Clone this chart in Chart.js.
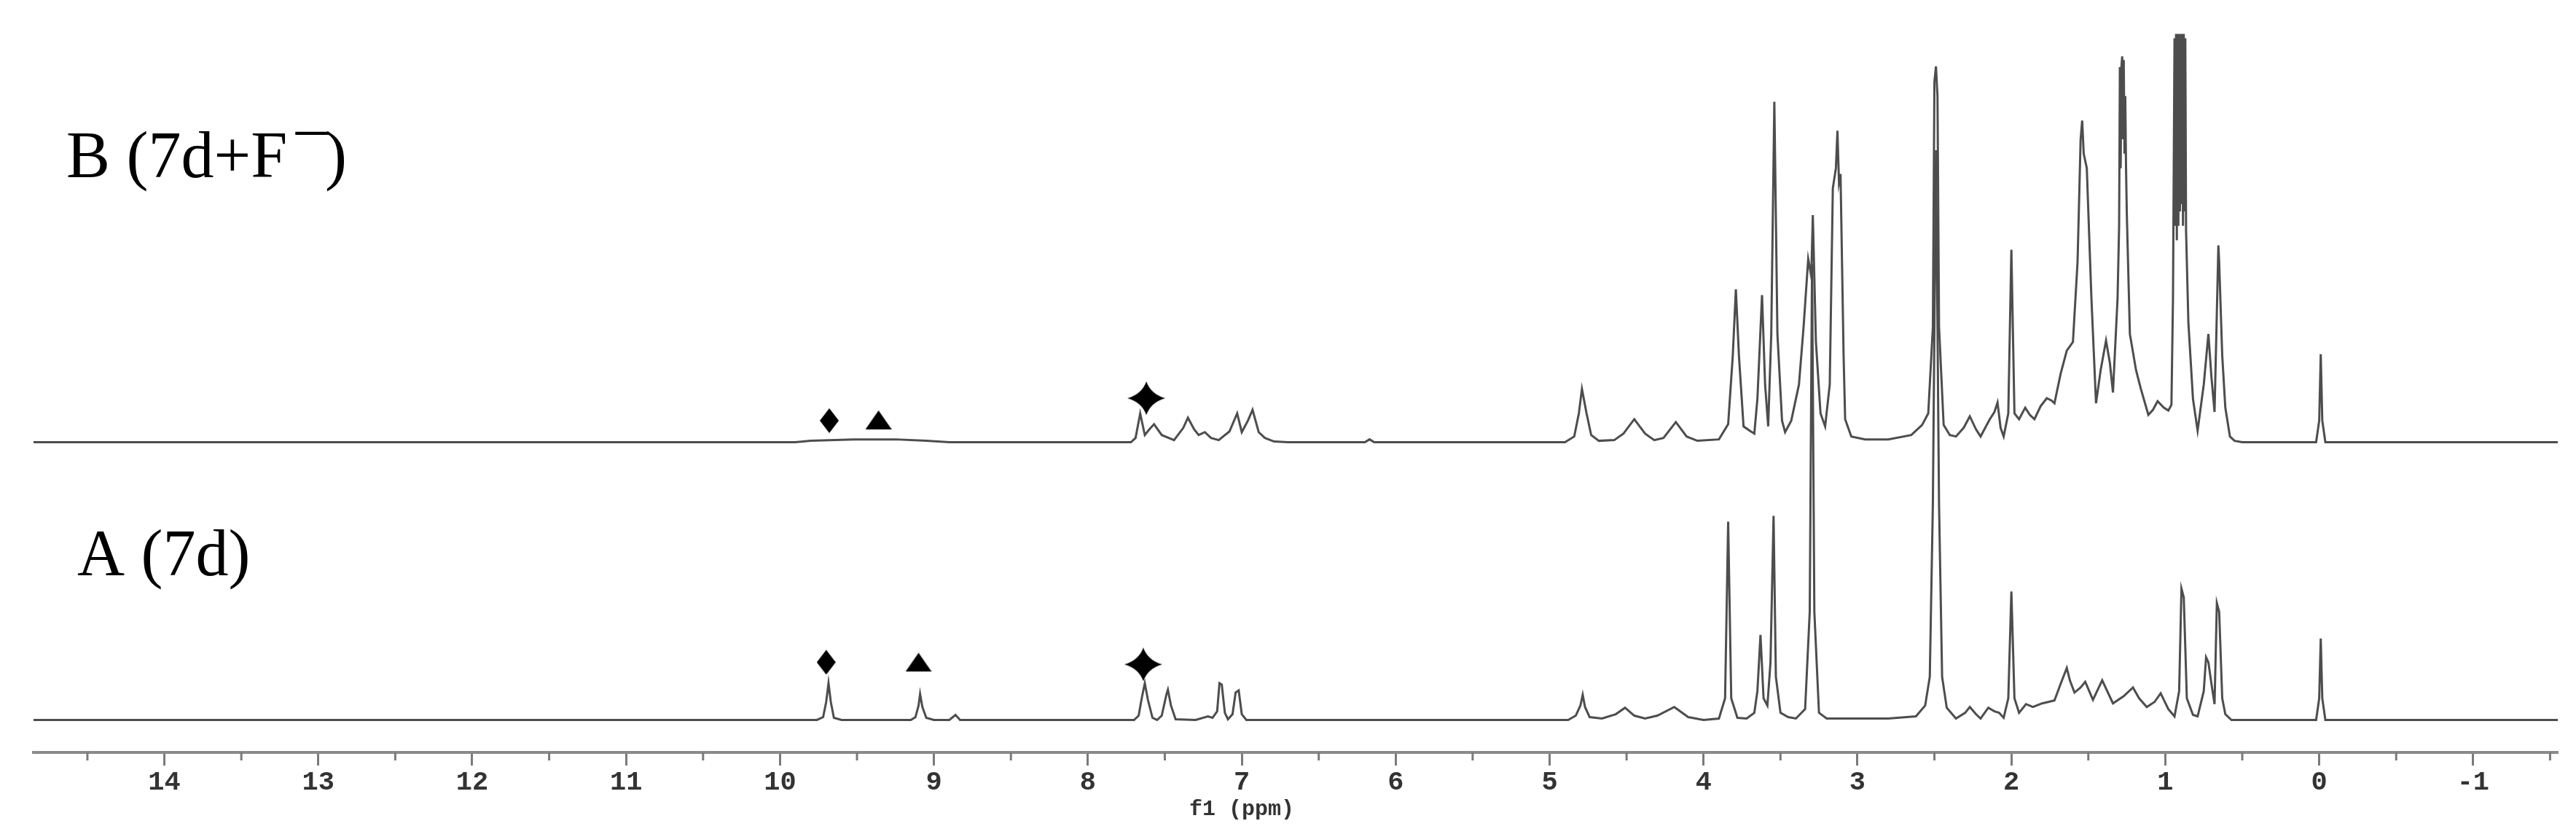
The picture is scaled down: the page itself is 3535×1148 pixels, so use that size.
<!DOCTYPE html>
<html>
<head>
<meta charset="utf-8">
<script src="https://cdn.jsdelivr.net/npm/chart.js@4.4.1/dist/chart.umd.min.js"></script>
<style>
  html, body { margin: 0; padding: 0; background: #fff; }
  #wrap { width: 3535px; height: 1148px; }
</style>
</head>
<body>
<div id="wrap"><canvas id="nmr" width="3535" height="1148"></canvas></div>
<script>
// ─── Spectrum B (7d + F-) : chemical shift (ppm) / intensity (a.u.) ───────
const ppmB = [14.85, 9.9, 9.8, 9.52, 9.25, 9.05, 8.9, 7.72, 7.69, 7.66, 7.63, 7.6, 7.57, 7.52, 7.44,
  7.38, 7.35, 7.31, 7.28, 7.24, 7.2, 7.15, 7.08, 7.03, 7.0, 6.96, 6.93, 6.89, 6.85, 6.79, 6.7,
  6.2, 6.17, 6.14, 4.9, 4.84, 4.81, 4.79, 4.76, 4.73, 4.68, 4.58, 4.52, 4.45, 4.38, 4.32, 4.26,
  4.18, 4.11, 4.04, 3.9, 3.84, 3.81, 3.79, 3.77, 3.74, 3.7, 3.67, 3.65, 3.62, 3.6, 3.58, 3.56,
  3.54, 3.52, 3.49, 3.47, 3.43, 3.38, 3.35, 3.32, 3.3, 3.29, 3.27, 3.24, 3.21, 3.18, 3.16, 3.14,
  3.13, 3.12, 3.11, 3.09, 3.08, 3.04, 2.95, 2.8, 2.65, 2.58, 2.54, 2.51, 2.5, 2.49, 2.48, 2.47, 2.44, 2.4,
  2.36, 2.31, 2.27, 2.23, 2.2, 2.17, 2.14, 2.11, 2.09, 2.07, 2.05, 2.02, 2.0, 1.98, 1.95, 1.91,
  1.88, 1.85, 1.81, 1.77, 1.74, 1.72, 1.68, 1.64, 1.6, 1.57, 1.55, 1.54, 1.53, 1.51, 1.48, 1.45, 1.42, 1.385,
  1.36, 1.34, 1.31, 1.3, 1.295, 1.29, 1.285, 1.28, 1.275, 1.27, 1.265, 1.26, 1.255, 1.25, 1.23, 1.19, 1.16,
  1.11, 1.08, 1.05, 1.01, 0.98, 0.96, 0.95, 0.94, 0.935, 0.93, 0.925, 0.92, 0.915, 0.91, 0.905,
  0.9, 0.895, 0.89, 0.885, 0.88, 0.875, 0.87, 0.865, 0.85, 0.82, 0.79, 0.75, 0.72, 0.7, 0.68,
  0.655, 0.65, 0.63, 0.61, 0.58, 0.55, 0.5,
  0.02, 0.0, -0.01, -0.02, -0.04, -1.55];
const intB = [0, 0, 2, 4, 4, 2, 0, 0, 6, 40, 10, 18, 25, 10, 3,
  20, 34, 18, 10, 14, 6, 3, 15, 40, 14, 30, 45, 14, 6, 1, 0,
  0, 4, 0, 0, 8, 40, 74, 40, 10, 2, 3, 12, 32, 12, 3, 6,
  28, 8, 2, 4, 25, 120, 212, 120, 22, 16, 12, 60, 204, 80, 22, 150,
  472, 150, 30, 14, 30, 80, 160, 254, 230, 315, 140, 40, 22, 80, 352, 380,
  432, 360, 372, 120, 32, 8, 4, 4, 10, 24, 40, 160, 500, 521, 480, 160, 24, 10,
  8, 20, 36, 18, 8, 20, 32, 42, 55, 20, 8, 40, 267, 40, 32, 48,
  38, 32, 50, 61, 58, 54, 95, 127, 139, 250, 420, 446, 400, 380, 200, 54, 100, 141,
  110, 69, 200, 300, 520, 380, 520, 535, 420, 530, 400, 480, 380, 317, 150, 100, 75,
  38, 45, 57, 48, 44, 52, 200, 560, 300, 566, 280, 566, 300, 566, 320,
  566, 330, 566, 300, 566, 320, 560, 293, 166, 60, 16, 80, 150, 90, 42,
  273, 250, 120, 48, 8, 2, 0,
  0, 30, 122, 30, 0, 0];

// ─── Spectrum A (7d) ──────────────────────────────────────────────────────
const ppmA = [14.85, 9.76, 9.72, 9.7, 9.685, 9.67, 9.65, 9.6, 9.15, 9.12, 9.1, 9.09, 9.075, 9.05, 9.0,
  8.9, 8.86, 8.83, 7.7, 7.67, 7.65, 7.63, 7.61, 7.58, 7.55, 7.52, 7.49, 7.48, 7.46, 7.43, 7.3,
  7.22, 7.19, 7.16, 7.145, 7.13, 7.11, 7.09, 7.06, 7.04, 7.02, 7.0, 6.97, 4.88, 4.83, 4.8, 4.785,
  4.77, 4.74, 4.66, 4.57, 4.51, 4.45, 4.38, 4.3, 4.19, 4.1, 4.0, 3.9, 3.86, 3.84, 3.82, 3.78,
  3.72, 3.67, 3.65, 3.63, 3.61, 3.585, 3.565, 3.545, 3.53, 3.5, 3.45, 3.4, 3.34, 3.31, 3.295,
  3.28, 3.25, 3.2, 2.8, 2.62, 2.56, 2.53, 2.51, 2.49, 2.47, 2.45, 2.42, 2.36, 2.3, 2.27, 2.23,
  2.2, 2.15, 2.11, 2.08, 2.05, 2.02, 2.0, 1.98, 1.95, 1.905, 1.86, 1.8, 1.72, 1.68, 1.64, 1.62,
  1.59, 1.55, 1.52, 1.47, 1.41, 1.34, 1.27, 1.21, 1.17, 1.12, 1.07, 1.03, 0.98, 0.94, 0.91,
  0.895, 0.88, 0.86, 0.82, 0.79, 0.75, 0.735, 0.72, 0.7, 0.68, 0.665, 0.65, 0.63, 0.61, 0.57,
  0.02, 0.0, -0.01, -0.02, -0.04, -1.55];
const intA = [0, 0, 4, 25, 51, 25, 3, 0, 0, 4, 20, 36, 18, 3, 0,
  0, 7, 0, 0, 6, 30, 51, 28, 3, 0, 6, 35, 42, 20, 1, 0,
  5, 3, 12, 51, 49, 10, 1, 8, 38, 41, 8, 0, 0, 6, 20, 35,
  18, 4, 2, 8, 17, 6, 2, 6, 18, 4, 0, 2, 30, 275, 30, 3,
  2, 10, 40, 118, 30, 20, 80, 283, 60, 10, 4, 2, 15, 150, 632,
  150, 10, 2, 2, 5, 20, 60, 300, 790, 300, 60, 17, 2, 10, 18, 8,
  2, 17, 12, 10, 3, 30, 178, 30, 10, 22, 18, 23, 27, 50, 72, 55,
  38, 45, 53, 28, 55, 23, 33, 45, 30, 18, 25, 37, 15, 5, 40,
  182, 170, 30, 7, 5, 40, 87, 80, 50, 22, 162, 150, 30, 8, 0,
  0, 30, 113, 30, 0, 0];

// ─── Assignment markers (diamond, triangle, star) ─────────────────────────
const markPpmB = [9.68, 9.36, 7.62];
const markIntB = [30, 31, 61];
const markPpmA = [9.7, 9.1, 7.64];
const markIntA = [80, 80, 77];

// ─── Axis ─────────────────────────────────────────────────────────────────
const ppmMin = -1.55;
const ppmMax = 14.85;

// ─── Marker glyphs ────────────────────────────────────────────────────────
function makeGlyph(w, h, drawPath) {
  const c = document.createElement('canvas');
  c.width = w; c.height = h;
  const g = c.getContext('2d');
  g.fillStyle = '#000';
  g.beginPath();
  drawPath(g, w, h);
  g.closePath();
  g.fill();
  return c;
}
const diamond = makeGlyph(26, 34, (g, w, h) => {
  g.moveTo(w / 2, 0); g.lineTo(w, h / 2); g.lineTo(w / 2, h); g.lineTo(0, h / 2);
});
const triangle = makeGlyph(36, 26, (g, w, h) => {
  g.moveTo(w / 2, 0); g.lineTo(w, h); g.lineTo(0, h);
});
const star = makeGlyph(52, 46, (g, w, h) => {
  const cx = w / 2, cy = h / 2, k = 0.12;
  g.moveTo(cx, 0);
  g.quadraticCurveTo(cx + w * k, cy - h * k, w, cy);
  g.quadraticCurveTo(cx + w * k, cy + h * k, cx, h);
  g.quadraticCurveTo(cx - w * k, cy + h * k, 0, cy);
  g.quadraticCurveTo(cx - w * k, cy - h * k, cx, 0);
});
const glyphs = [diamond, triangle, star];

const toPoints = (xs, ys) => xs.map((x, i) => ({ x, y: ys[i] }));
const isWhole = v => Math.abs(v - Math.round(v)) < 1e-6;

// ─── Text + minor ticks plugin ────────────────────────────────────────────
const decor = {
  id: 'decor',
  afterDraw(chart) {
    const { ctx, chartArea } = chart;
    const xs = chart.scales.x;
    ctx.save();
    // minor ticks at half ppm
    ctx.strokeStyle = '#7a7a7a';
    ctx.lineWidth = 3;
    xs.ticks.forEach(t => {
      if (isWhole(t.value)) return;
      const px = xs.getPixelForValue(t.value);
      ctx.beginPath();
      ctx.moveTo(px, chartArea.bottom);
      ctx.lineTo(px, chartArea.bottom + 11);
      ctx.stroke();
    });
    // axis title
    ctx.fillStyle = '#333';
    ctx.font = 'bold 30px "Liberation Mono"';
    ctx.textAlign = 'center';
    ctx.textBaseline = 'middle';
    ctx.fillText('f1 (ppm)', xs.getPixelForValue(7), 1110);
    // spectrum labels
    ctx.fillStyle = '#000';
    ctx.textAlign = 'left';
    ctx.textBaseline = 'alphabetic';
    ctx.font = '90px "Liberation Serif"';
    ctx.fillText('B (7d+F', 91, 243);
    ctx.fillText('\u00AF', 406, 250);
    ctx.fillText(')', 446, 243);
    ctx.fillText('A (7d)', 106, 789);
    ctx.restore();
  }
};

new Chart(document.getElementById('nmr'), {
  type: 'line',
  data: {
    datasets: [
      {
        label: 'B (7d+F-)', data: toPoints(ppmB, intB), yAxisID: 'yB',
        borderColor: '#4d4d4d', borderWidth: 3, pointRadius: 0, tension: 0
      },
      {
        label: 'A (7d)', data: toPoints(ppmA, intA), yAxisID: 'yA',
        borderColor: '#4d4d4d', borderWidth: 3, pointRadius: 0, tension: 0
      },
      {
        type: 'scatter', label: 'marks B', data: toPoints(markPpmB, markIntB), yAxisID: 'yB',
        pointStyle: glyphs, pointRadius: 10, showLine: false
      },
      {
        type: 'scatter', label: 'marks A', data: toPoints(markPpmA, markIntA), yAxisID: 'yA',
        pointStyle: glyphs, pointRadius: 10, showLine: false
      }
    ]
  },
  options: {
    responsive: false,
    animation: false,
    devicePixelRatio: 1,
    layout: { padding: { left: 46, right: 25, top: 0, bottom: 0 } },
    plugins: { legend: { display: false }, tooltip: { enabled: false } },
    scales: {
      x: {
        type: 'linear', reverse: true, min: ppmMin, max: ppmMax,
        afterFit: s => { s.height = 116; },
        border: { display: true, color: '#8a8a8a', width: 4 },
        grid: {
          drawOnChartArea: false, drawTicks: true, tickLength: 18, tickWidth: 3,
          tickColor: c => (c.tick && isWhole(c.tick.value)) ? '#7a7a7a' : 'rgba(0,0,0,0)'
        },
        ticks: {
          stepSize: 0.5, includeBounds: false, autoSkip: false, maxRotation: 0, padding: 1,
          color: '#333', font: { family: 'Liberation Mono', size: 37, weight: 'bold' },
          callback: v => isWhole(v) ? String(Math.round(v)) : ''
        }
      },
      yB: { display: false, min: -430, max: 602 },
      yA: { display: false, min: -45, max: 987 }
    }
  },
  plugins: [decor]
});
</script>
</body>
</html>
